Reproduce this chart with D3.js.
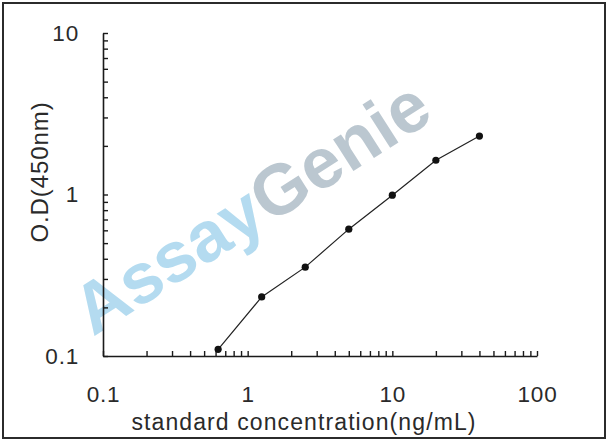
<!DOCTYPE html>
<html>
<head>
<meta charset="utf-8">
<script src="https://cdn.jsdelivr.net/npm/d3@7"></script>
<style>
  body { margin: 0; background: #fff; }
  text { font-family: "Liberation Sans", Arial, sans-serif; }
</style>
</head>
<body>
<div id="chart"></div>
<script>
// standard curve points
var concentration = [0.625, 1.25, 2.5, 5, 10, 20, 40];
var od450 = [0.11, 0.232, 0.355, 0.61, 0.99, 1.63, 2.3];
var xTickLabels = [0.1, 1, 10, 100];
var yTickLabels = [0.1, 1, 10];

var W = 608, H = 441;

var svg = d3.select("#chart").append("svg")
    .attr("width", W)
    .attr("height", H);

svg.append("rect")
    .attr("width", W).attr("height", H)
    .attr("fill", "#fff");

// frame
svg.append("rect")
    .attr("x", 3).attr("y", 3)
    .attr("width", 602).attr("height", 435)
    .attr("fill", "none")
    .attr("stroke", "#2b2b2b")
    .attr("stroke-width", 2);

var x = d3.scaleLog().domain([0.1, 100]).range([103, 537]);
var y = d3.scaleLog().domain([0.1, 10]).range([356, 33]);

// watermark
var wm = svg.append("text")
    .attr("transform", "translate(93,337) rotate(-32.5)")
    .attr("font-size", 71)
    .attr("font-weight", "bold")
    .attr("opacity", 0.78);
wm.append("tspan").attr("fill", "#9fd2ec").text("Assay");
wm.append("tspan").attr("fill", "#a9b8c3").text("Genie");

var xAxis = d3.axisBottom(x)
    .tickValues(x.ticks())
    .tickSizeInner(-5)
    .tickSizeOuter(0)
    .tickPadding(30)
    .tickFormat(function (d) { return xTickLabels.indexOf(d) >= 0 ? d3.format("~g")(d) : ""; });

var yAxis = d3.axisLeft(y)
    .tickValues(y.ticks())
    .tickSizeInner(-5)
    .tickSizeOuter(0)
    .tickPadding(24)
    .tickFormat(function (d) { return yTickLabels.indexOf(d) >= 0 ? d3.format("~g")(d) : ""; });

var gx = svg.append("g")
    .attr("transform", "translate(0," + y(0.1) + ")")
    .call(xAxis);

var gy = svg.append("g")
    .attr("transform", "translate(" + x(0.1) + ",0)")
    .call(yAxis);

[gx, gy].forEach(function (g) {
    g.select(".domain").attr("stroke", "#1a1a1a").attr("stroke-width", 1.6);
    g.selectAll(".tick line").attr("stroke", "#1a1a1a").attr("stroke-width", 1.4);
    g.selectAll(".tick text")
        .attr("font-size", 22.5)
        .attr("letter-spacing", 0.8)
        .attr("fill", "#2a2a2a")
        .attr("font-family", "'Liberation Sans', Arial, sans-serif");
});

// curve
var line = d3.line()
    .x(function (d, i) { return x(concentration[i]); })
    .y(function (d) { return y(d); });

svg.append("path")
    .datum(od450)
    .attr("d", line)
    .attr("fill", "none")
    .attr("stroke", "#222")
    .attr("stroke-width", 1.2);

svg.selectAll(".pt")
    .data(od450)
    .enter().append("circle")
    .attr("class", "pt")
    .attr("cx", function (d, i) { return x(concentration[i]); })
    .attr("cy", function (d) { return y(d); })
    .attr("r", 3.6)
    .attr("fill", "#111");

// axis titles
svg.append("text")
    .attr("x", 304).attr("y", 430)
    .attr("text-anchor", "middle")
    .attr("font-size", 23)
    .attr("letter-spacing", 1.1)
    .attr("fill", "#2a2a2a")
    .text("standard concentration(ng/mL)");

svg.append("text")
    .attr("transform", "translate(48,172) rotate(-90)")
    .attr("text-anchor", "middle")
    .attr("font-size", 24)
    .attr("letter-spacing", 0.9)
    .attr("fill", "#2a2a2a")
    .text("O.D(450nm)");
</script>
</body>
</html>
